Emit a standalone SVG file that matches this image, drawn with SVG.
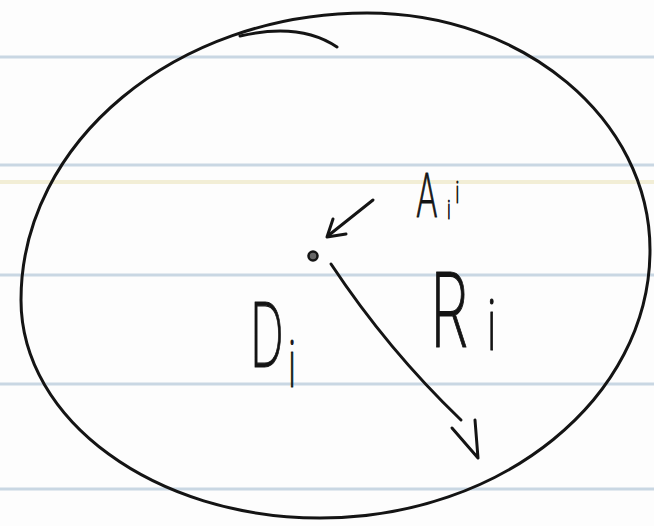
<svg xmlns="http://www.w3.org/2000/svg" width="654" height="526" viewBox="0 0 654 526">
  <style>
    .rule { stroke: #c9d7e3; stroke-width: 3; }
    .ink { fill: none; stroke: #141414; stroke-width: 3; stroke-linecap: round; stroke-linejoin: round; }
    .hand { font-family: Inter, "Liberation Sans", sans-serif; font-weight: 200; fill: #141414; stroke: #141414; stroke-width: 1.2; stroke-linejoin: round; }
  </style>
  <rect width="654" height="526" fill="#fdfdfd"/>
  <g id="paper">
    <line class="rule" x1="0" y1="57" x2="654" y2="57"/>
    <line class="rule" x1="0" y1="165" x2="654" y2="165"/>
    <line x1="0" y1="182" x2="654" y2="182" stroke="#f2eed6" stroke-width="4"/>
    <line class="rule" x1="0" y1="275" x2="654" y2="275"/>
    <line class="rule" x1="0" y1="384" x2="654" y2="384"/>
    <line class="rule" x1="0" y1="489" x2="654" y2="489"/>
  </g>
  <g id="region-D">
    <path class="ink" d="M367 13 C523 13 650 119 650 250 C650 398 502 518 320 518 C155 518 21 420 21 300 C21 142 176 13 367 13 Z"/>
    <path class="ink" d="M240 36 Q300 22 337 47"/>
    <text class="hand" transform="translate(250,367) scale(0.53,1)" font-size="89"><tspan x="0" y="0">D</tspan><tspan x="72" y="20" font-size="64">i</tspan></text>
  </g>
  <g id="point-A">
    <circle cx="313" cy="256" r="4.5" fill="#666" stroke="#141414" stroke-width="2.5"/>
    <text class="hand" transform="translate(416,217) scale(0.55,1)" font-size="60"><tspan x="0" y="0">A</tspan><tspan x="57" y="2" font-size="26">i</tspan><tspan x="72" y="-14" font-size="30">i</tspan></text>
  </g>
  <g id="label-R">
    <text class="hand" transform="translate(430,347) scale(0.6,1)" font-size="103"><tspan x="0" y="0">R</tspan><tspan x="95" y="3" font-size="70">i</tspan></text>
  </g>
  <g id="connectors">
    <path class="ink" d="M373 200 L329 235"/>
    <path class="ink" d="M333 219 L327 237 L346 234"/>
    <path class="ink" d="M331 264 Q388 350 461 420"/>
    <path class="ink" d="M452 428 L478 458 L475 420"/>
  </g>
</svg>
